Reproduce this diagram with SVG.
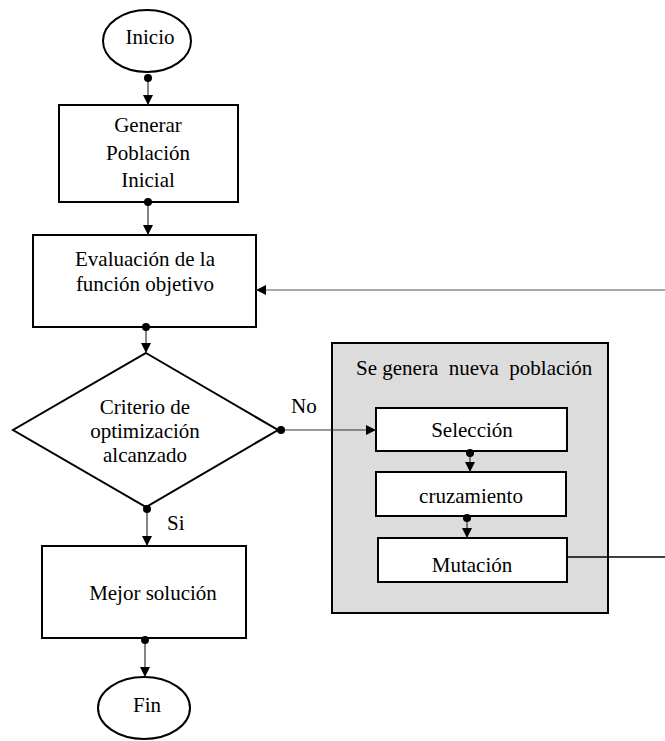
<svg xmlns="http://www.w3.org/2000/svg" width="665" height="741" viewBox="0 0 665 741">
  <style>
    .shape { fill: #ffffff; stroke: #000000; stroke-width: 2; }
    .group { fill: #dcdcdc; stroke: #000000; stroke-width: 2; }
    .link { fill: none; stroke: #333333; stroke-width: 1.2; }
    .dot { fill: #000000; }
  </style>
  <defs>
    <marker id="arrow" viewBox="0 0 10 10" refX="10" refY="5" markerWidth="10" markerHeight="10" markerUnits="userSpaceOnUse" orient="auto">
      <path d="M0,0 L10,5 L0,10 Z" fill="#000000"/>
    </marker>
  </defs>

  <g font-family="Liberation Serif, Times New Roman, serif" font-size="21" fill="#000000">
    <!-- Group container for the new population steps -->
    <g id="nueva-poblacion">
      <rect class="group" x="332" y="343" width="276" height="270"/>
      <text x="356" y="375" xml:space="preserve">Se genera  nueva  población</text>
    </g>

    <g id="inicio" text-anchor="middle">
      <ellipse class="shape" cx="147" cy="41" rx="44" ry="31"/>
      <text x="150" y="44">Inicio</text>
    </g>

    <g id="generar" text-anchor="middle">
      <rect class="shape" x="59" y="105" width="179" height="97"/>
      <text x="148" y="132">Generar</text>
      <text x="148" y="160">Población</text>
      <text x="148" y="187">Inicial</text>
    </g>

    <g id="evaluacion" text-anchor="middle">
      <rect class="shape" x="33" y="235" width="223" height="92"/>
      <text x="145" y="266">Evaluación de la</text>
      <text x="145" y="291">función objetivo</text>
    </g>

    <g id="criterio" text-anchor="middle">
      <polygon class="shape" points="146,353 278,430 146,507 13,430"/>
      <text x="145" y="414">Criterio de</text>
      <text x="145" y="438">optimización</text>
      <text x="145" y="462">alcanzado</text>
    </g>

    <g id="mejor" text-anchor="middle">
      <rect class="shape" x="42" y="546" width="204" height="92"/>
      <text x="153" y="600">Mejor solución</text>
    </g>

    <g id="fin" text-anchor="middle">
      <ellipse class="shape" cx="144" cy="708" rx="46" ry="31"/>
      <text x="147" y="712">Fin</text>
    </g>

    <g id="seleccion" text-anchor="middle">
      <rect class="shape" x="376" y="408" width="191" height="43"/>
      <text x="472" y="437">Selección</text>
    </g>

    <g id="cruzamiento" text-anchor="middle">
      <rect class="shape" x="376" y="472" width="190" height="44"/>
      <text x="471" y="503">cruzamiento</text>
    </g>

    <g id="mutacion" text-anchor="middle">
      <rect class="shape" x="378" y="538" width="189" height="44"/>
      <text x="472" y="572">Mutación</text>
    </g>

    <!-- Connectors -->
    <g id="connectors">
      <line class="link" x1="148" y1="78" x2="148" y2="105" marker-end="url(#arrow)"/>
      <circle class="dot" cx="148" cy="78" r="4"/>

      <line class="link" x1="148" y1="202" x2="148" y2="235" marker-end="url(#arrow)"/>
      <circle class="dot" cx="148" cy="202" r="4"/>

      <line class="link" x1="146" y1="327" x2="146" y2="353" marker-end="url(#arrow)"/>
      <circle class="dot" cx="146" cy="327" r="4"/>

      <line class="link" x1="147" y1="509" x2="147" y2="546" marker-end="url(#arrow)"/>
      <circle class="dot" cx="147" cy="509" r="4"/>

      <line class="link" x1="145" y1="640" x2="145" y2="677" marker-end="url(#arrow)"/>
      <circle class="dot" cx="145" cy="640" r="4"/>

      <line class="link" x1="281" y1="430" x2="376" y2="430" marker-end="url(#arrow)"/>
      <circle class="dot" cx="281" cy="430" r="4"/>
      <text x="291" y="413">No</text>
      <text x="167" y="530">Si</text>

      <line class="link" x1="470" y1="453" x2="470" y2="472" marker-end="url(#arrow)"/>
      <circle class="dot" cx="470" cy="453" r="4"/>

      <line class="link" x1="467" y1="518" x2="467" y2="538" marker-end="url(#arrow)"/>
      <circle class="dot" cx="467" cy="518" r="4"/>

      <!-- loop back from Mutación to the evaluation step -->
      <path class="link" d="M567,557 H680" style="stroke:#000000;stroke-width:1.6"/>
      <path class="link" d="M680,557 V290 H256" style="stroke:#555555;stroke-width:1.2" marker-end="url(#arrow)"/>
    </g>
  </g>
</svg>
